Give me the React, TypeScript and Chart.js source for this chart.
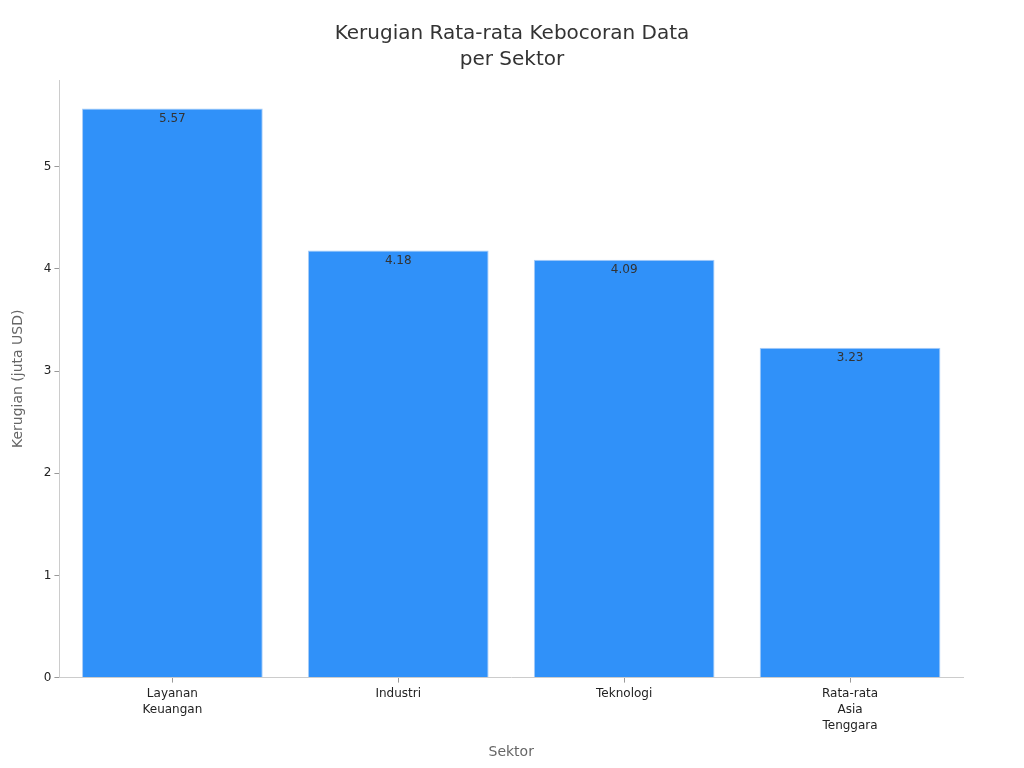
import React, { useEffect, useRef } from 'react';
import { Chart, registerables } from 'chart.js';

Chart.register(...registerables);

const titleLines: string[] = ['Kerugian Rata-rata Kebocoran Data', 'per Sektor'];
const categories: string[][] = [['Layanan', 'Keuangan'], ['Industri'], ['Teknologi'], ['Rata-rata', 'Asia', 'Tenggara']];
const losses: number[] = [5.57, 4.18, 4.09, 3.23];
const yTicks: number[] = [0, 1, 2, 3, 4, 5];

const FONT = "'DejaVu Sans', sans-serif";

// title centred on the whole canvas, not on the padded layout box
const pageTitle = {
  id: 'pageTitle',
  afterDraw(chart: any) {
    const ctx = chart.ctx;
    ctx.save();
    ctx.font = `20px ${FONT}`;
    ctx.fillStyle = '#333333';
    ctx.textAlign = 'center';
    ctx.textBaseline = 'middle';
    titleLines.forEach((line, i) => {
      ctx.fillText(line, chart.width / 2, 34 + i * 26);
    });
    ctx.restore();
  },
};

const valueLabels = {
  id: 'valueLabels',
  afterDatasetsDraw(chart: any) {
    const ctx = chart.ctx;
    const meta = chart.getDatasetMeta(0);
    ctx.save();
    ctx.font = `12px ${FONT}`;
    ctx.fillStyle = '#333333';
    ctx.textAlign = 'center';
    ctx.textBaseline = 'middle';
    meta.data.forEach((bar: any, i: number) => {
      ctx.fillText(losses[i].toFixed(2), bar.x, bar.y + 10);
    });
    ctx.restore();
  },
};

const App: React.FC = () => {
  const canvasRef = useRef<HTMLCanvasElement | null>(null);
  const chartRef = useRef<Chart | null>(null);

  useEffect(() => {
    const el = canvasRef.current;
    if (!el) return;
    if (chartRef.current) chartRef.current.destroy();

    chartRef.current = new Chart(el, {
      type: 'bar',
      data: {
        labels: categories,
        datasets: [{
          data: losses,
          backgroundColor: '#3091f9',
          borderColor: '#a9cdf7',
          borderWidth: 1,
          barPercentage: 0.8,
          categoryPercentage: 1,
        }],
      },
      plugins: [valueLabels, pageTitle],
      options: {
        responsive: false,
        animation: false,
        layout: { padding: { left: 6, right: 61, top: 80, bottom: 3 } },
        plugins: {
          legend: { display: false },
          tooltip: { enabled: false },
          title: { display: false },
        },
        scales: {
          x: {
            grid: { display: true, drawOnChartArea: false, offset: false, tickLength: 5, color: '#999999' },
            border: { color: '#cccccc' },
            ticks: { color: '#222222', font: { family: FONT, size: 12, lineHeight: 1.35 }, padding: 3 },
            title: { display: true, text: 'Sektor', color: '#666666', font: { family: FONT, size: 14 }, padding: { top: 7, bottom: 4 } },
          },
          y: {
            min: 0,
            max: 5.85,
            afterBuildTicks: (axis: any) => {
              axis.ticks = yTicks.map((v) => ({ value: v }));
            },
            grid: { display: true, drawOnChartArea: false, tickLength: 5, color: '#999999' },
            border: { color: '#cccccc' },
            ticks: { color: '#222222', font: { family: FONT, size: 12 }, padding: 3 },
            title: { display: true, text: 'Kerugian (juta USD)', color: '#666666', font: { family: FONT, size: 14 }, padding: { bottom: 14 } },
          },
        },
      },
    });

    return () => {
      if (chartRef.current) {
        chartRef.current.destroy();
        chartRef.current = null;
      }
    };
  }, []);

  return (
    <div style={{ position: 'fixed', left: 0, top: 0, width: 1024, height: 768, background: '#ffffff' }}>
      <canvas ref={canvasRef} width={1024} height={768}></canvas>
    </div>
  );
};

export default App;
